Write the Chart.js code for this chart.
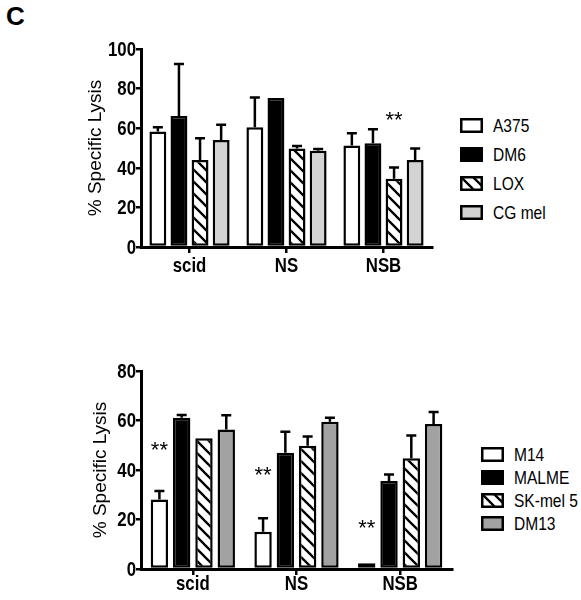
<!DOCTYPE html>
<html>
<head>
<meta charset="utf-8">
<script src="https://cdn.jsdelivr.net/npm/chart.js@4.4.1/dist/chart.umd.min.js"></script>
<style>
  body { margin: 0; background: #fff; width: 581px; height: 600px; position: relative; overflow: hidden;
         font-family: 'Liberation Sans', Arial, sans-serif; }
  #panel { position: absolute; left: 6px; top: 1px; font: bold 26px 'Liberation Sans', Arial, sans-serif; }
  canvas.chart { position: absolute; left: 0; }
  .legend { position: absolute; width: 100px; }
  .legend .row { position: absolute; left: 0; height: 16px; width: 100px; }
  .legend .row canvas { position: absolute; left: 0; top: 0; }
  .legend .row span { position: absolute; left: 33px; top: -3px; font-size: 18.5px; line-height: 22px; color: #000;
                      white-space: nowrap; transform: scaleX(0.84); transform-origin: 0 50%; }
</style>
</head>
<body>
<div id="panel">C</div>
<canvas id="chartTop" class="chart" width="440" height="290" style="top:0px"></canvas>
<canvas id="chartBottom" class="chart" width="460" height="260" style="top:340px"></canvas>
<div id="legendTop" class="legend" style="left:460px; top:118px"></div>
<div id="legendBottom" class="legend" style="left:481px; top:447px"></div>

<script>
// 위쪽 그래프 데이터
var topCats = ['scid', 'NS', 'NSB'];
var topNames = ['A375', 'DM6', 'LOX', 'CG mel'];
var topA375 = [58.3, 60.5, 51.2];
var topDM6 = [66.2, 75.2, 52.4];
var topLOX = [43.9, 49.8, 34.5];
var topCGmel = [54.0, 48.6, 43.9];
var topA375Err = [2.2, 15.0, 6.2];
var topDM6Err = [26.2, 0, 7.1];
var topLOXErr = [11.0, 1.2, 5.7];
var topCGmelErr = [7.8, 0.9, 5.9];
var topTicks = [0, 20, 40, 60, 80, 100];
// 별표 (series, category, value)
var topStars = [[2, 2, 65]];

// 아래쪽 그래프 데이터
var botCats = ['scid', 'NS', 'NSB'];
var botNames = ['M14', 'MALME', 'SK-mel 5', 'DM13'];
var botM14 = [28.1, 15.1, 2.3];
var botMALME = [61.1, 47.0, 35.6];
var botSKmel5 = [52.8, 49.8, 44.7];
var botDM13 = [56.4, 59.5, 58.6];
var botM14Err = [3.4, 5.4, 0];
var botMALMEErr = [1.1, 8.5, 2.6];
var botSKmel5Err = [0, 3.7, 9.2];
var botDM13Err = [5.7, 1.6, 4.8];
var botTicks = [0, 20, 40, 60, 80];
var botStars = [[0, 0, 49], [0, 1, 38.8], [0, 2, 17.4]];

var FONT = "'Liberation Sans', Arial, sans-serif";

// 빗금 패턴
function makeHatch(ctx) {
    var c = document.createElement('canvas');
    c.width = 12; c.height = 12;
    var g = c.getContext('2d');
    g.fillStyle = '#fff';
    g.fillRect(0, 0, 12, 12);
    g.strokeStyle = '#000';
    g.lineWidth = 2.3;
    g.beginPath();
    g.moveTo(-2, -2); g.lineTo(14, 14);
    g.moveTo(-2, 10); g.lineTo(2, 14);
    g.moveTo(10, -2); g.lineTo(14, 2);
    g.stroke();
    return ctx.createPattern(c, 'repeat');
}

// 오차 막대 (위쪽만)
var errorBars = {
    id: 'errorBars',
    afterDatasetsDraw: function (chart) {
        var ctx = chart.ctx;
        var y = chart.scales.y;
        ctx.save();
        ctx.strokeStyle = '#000';
        ctx.lineWidth = 2.5;
        chart.data.datasets.forEach(function (ds, d) {
            var meta = chart.getDatasetMeta(d);
            meta.data.forEach(function (bar, i) {
                var e = ds.err[i];
                if (!e) return;
                var top = y.getPixelForValue(ds.data[i] + e);
                ctx.beginPath();
                ctx.moveTo(bar.x, bar.y);
                ctx.lineTo(bar.x, top);
                ctx.moveTo(bar.x - 5, top);
                ctx.lineTo(bar.x + 5, top);
                ctx.stroke();
            });
        });
        ctx.restore();
    }
};

// 별표 표시
var starMarks = {
    id: 'starMarks',
    afterDatasetsDraw: function (chart, args, opts) {
        var ctx = chart.ctx;
        var y = chart.scales.y;
        ctx.save();
        ctx.fillStyle = '#000';
        ctx.font = '22px ' + FONT;
        ctx.textAlign = 'center';
        ctx.textBaseline = 'middle';
        opts.marks.forEach(function (m) {
            var bar = chart.getDatasetMeta(m[0]).data[m[1]];
            ctx.fillText('**', bar.x, y.getPixelForValue(m[2]) + 3);
        });
        ctx.restore();
    }
};

// 좁은 글꼴 대신 가로로 눌러서 그리기
function drawNarrow(ctx, text, px, py, align) {
    ctx.save();
    ctx.translate(px, py);
    ctx.scale(0.8, 1);
    ctx.textAlign = align;
    ctx.fillText(text, 0, 0);
    ctx.restore();
}

var narrowTicks = {
    id: 'narrowTicks',
    afterDraw: function (chart, args, opts) {
        var ctx = chart.ctx;
        var x = chart.scales.x, y = chart.scales.y;
        ctx.save();
        ctx.fillStyle = '#000';
        ctx.font = 'bold 21px ' + FONT;
        ctx.textBaseline = 'middle';
        y.ticks.forEach(function (t, i) {
            drawNarrow(ctx, String(t.value), y.right - 5, y.getPixelForTick(i) + 1, 'right');
        });
        ctx.textBaseline = 'top';
        x.ticks.forEach(function (t, i) {
            drawNarrow(ctx, chart.data.labels[i], x.getPixelForTick(i), x.top + opts.gap, 'center');
        });
        ctx.restore();
    }
};

function drawSwatch(cv, fill) {
    var g = cv.getContext('2d');
    g.fillStyle = fill === 'hatch' ? makeHatch(g) : fill;
    g.fillRect(1, 1, cv.width - 2, cv.height - 2);
    g.strokeStyle = '#000';
    g.lineWidth = 2.5;
    g.strokeRect(1.25, 1.25, cv.width - 2.5, cv.height - 2.5);
}

function buildLegend(id, names, fills, spacing) {
    var box = document.getElementById(id);
    for (var i = 0; i < names.length; i++) {
        var row = document.createElement('div');
        row.className = 'row';
        row.style.top = (i * spacing) + 'px';
        var cv = document.createElement('canvas');
        cv.width = 23; cv.height = 15;
        row.appendChild(cv);
        var sp = document.createElement('span');
        sp.textContent = names[i];
        row.appendChild(sp);
        box.appendChild(row);
        drawSwatch(cv, fills[i]);
    }
}

function makeChart(id, cats, names, series, errs, fills, ticks, stars, o) {
    var canvas = document.getElementById(id);
    var ctx = canvas.getContext('2d');
    var datasets = [];
    for (var i = 0; i < series.length; i++) {
        datasets.push({
            label: names[i],
            data: series[i],
            err: errs[i],
            backgroundColor: fills[i] === 'hatch' ? makeHatch(ctx) : fills[i],
            borderColor: '#000',
            borderWidth: 2.5,
            borderSkipped: false,
            barPercentage: o.barPct,
            categoryPercentage: o.catPct
        });
    }
    return new Chart(ctx, {
        type: 'bar',
        data: { labels: cats, datasets: datasets },
        plugins: [errorBars, starMarks, narrowTicks],
        options: {
            responsive: false,
            animation: false,
            devicePixelRatio: 1,
            layout: { padding: { top: o.padTop, left: o.padLeft, right: o.padRight, bottom: 0 } },
            plugins: {
                legend: { display: false },
                tooltip: { enabled: false },
                starMarks: { marks: stars },
                narrowTicks: { gap: o.xGap }
            },
            scales: {
                x: {
                    grid: { offset: false, drawOnChartArea: false, tickLength: 6, color: '#000', lineWidth: 2.5 },
                    border: { color: '#000', width: 3 },
                    ticks: { display: false },
                    afterFit: function (s) { s.height = o.xHeight; }
                },
                y: {
                    min: 0,
                    max: ticks[ticks.length - 1],
                    afterBuildTicks: function (s) { s.ticks = ticks.map(function (v) { return { value: v }; }); },
                    grid: { drawOnChartArea: false, tickLength: 5, color: '#000', lineWidth: 2.5 },
                    border: { color: '#000', width: 3 },
                    ticks: { display: false },
                    title: { display: true, text: '% Specific Lysis', color: '#000', padding: 0,
                             font: { family: FONT, size: 19 } },
                    afterFit: function (s) { s.width = o.yWidth; }
                }
            }
        }
    });
}

var topFills = ['#ffffff', '#000000', 'hatch', '#d3d3d3'];
var botFills = ['#ffffff', '#000000', 'hatch', '#a2a2a2'];

makeChart('chartTop', topCats, topNames,
    [topA375, topDM6, topLOX, topCGmel],
    [topA375Err, topDM6Err, topLOXErr, topCGmelErr],
    topFills, topTicks, topStars,
    { padTop: 49, padLeft: 84, padRight: 8, yWidth: 57, xHeight: 43, xGap: 9, barPct: 0.8, catPct: 0.87 });

makeChart('chartBottom', botCats, botNames,
    [botM14, botMALME, botSKmel5, botDM13],
    [botM14Err, botMALMEErr, botSKmel5Err, botDM13Err],
    botFills, botTicks, botStars,
    { padTop: 31, padLeft: 89, padRight: 8, yWidth: 52, xHeight: 31, xGap: 5, barPct: 0.78, catPct: 0.86 });

buildLegend('legendTop', topNames, topFills, 29);
buildLegend('legendBottom', botNames, botFills, 23);
</script>
</body>
</html>
